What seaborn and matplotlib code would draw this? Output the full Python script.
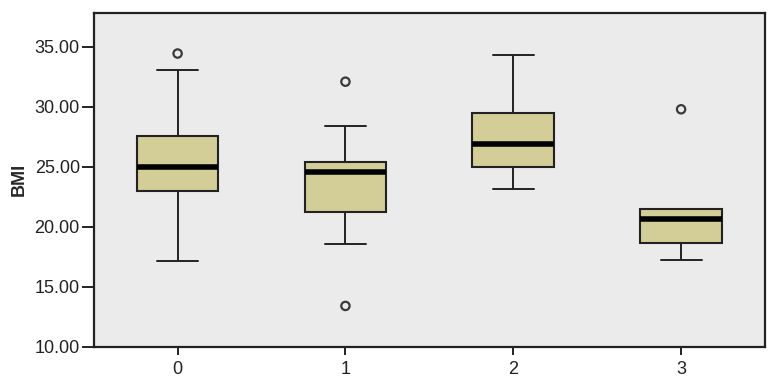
import numpy as np
import pandas as pd
import matplotlib
matplotlib.use("Agg")
import matplotlib.pyplot as plt
import seaborn as sns

# ---- data ----
groups = ["0", "1", "2", "3"]
whisker_low = [17.15, 18.53, 23.14, 17.25]
q1 = [23.00, 21.20, 25.00, 18.64]
median = [25.00, 24.55, 26.92, 20.64]
q3 = [27.58, 25.40, 29.45, 21.50]
whisker_high = [33.06, 28.40, 34.33, 21.50]
outlier_group = ["0", "1", "1", "3"]
outlier_value = [34.45, 32.10, 13.40, 29.80]
y_ticks = [10.0, 15.0, 20.0, 25.0, 30.0, 35.0]

# long-form table whose percentiles (linear interpolation) reproduce the box stats
rows = []
for g, a, b, c, d, e in zip(groups, whisker_low, q1, median, q3, whisker_high):
    for v in (a, b, c, d, e):
        rows.append({"group": g, "BMI": v})
df = pd.DataFrame(rows)
out_df = pd.DataFrame({"group": outlier_group, "BMI": outlier_value})

sns.set_theme(style="white")
plt.rcParams["font.family"] = ["Liberation Sans", "DejaVu Sans"]

fig = plt.figure(figsize=(7.76, 3.89), dpi=100)
ax = fig.add_axes([93.7 / 776, 1 - 346.7 / 389, (765 - 93.7) / 776, (346.7 - 13) / 389])
ax.set_facecolor("#EBEBEB")

edge = "#222222"
sns.boxplot(data=df, x="group", y="BMI", order=groups, whis=(0, 100),
            width=0.487, color="#D3CE97", saturation=1, linewidth=1.5,
            linecolor=edge, showfliers=False,
            boxprops=dict(facecolor="#D3CE97", edgecolor=edge, linewidth=1.5),
            medianprops=dict(color="black", linewidth=4.0),
            whiskerprops=dict(color=edge, linewidth=1.4),
            capprops=dict(color=edge, linewidth=1.4),
            ax=ax)

sns.stripplot(data=out_df, x="group", y="BMI", order=groups, jitter=False,
              marker="o", size=6.0, color="white", edgecolor="#3a3a3a",
              linewidth=1.6, ax=ax, zorder=5)
for coll in ax.collections:
    coll.set_facecolor("none")

ax.set_xlim(-0.5, 3.5)
ax.set_ylim(10, 37.83)
ax.set_yticks(y_ticks)
ax.set_yticklabels([f"{t:.2f}" for t in y_ticks])
ax.set_xlabel("")
ax.set_ylabel("BMI", fontsize=13, fontweight="bold", labelpad=5)

for s in ax.spines.values():
    s.set_visible(True)
    s.set_color("#222222")
    s.set_linewidth(1.6)

ax.tick_params(axis="y", which="both", left=True, length=9, width=1.4,
               color="#222222", labelsize=13, labelcolor="#222222", pad=1)
ax.tick_params(axis="x", which="both", bottom=True, length=6, width=1.4,
               color="#222222", labelsize=13, labelcolor="#222222", pad=4)

fig.savefig("out.png", dpi=100)
